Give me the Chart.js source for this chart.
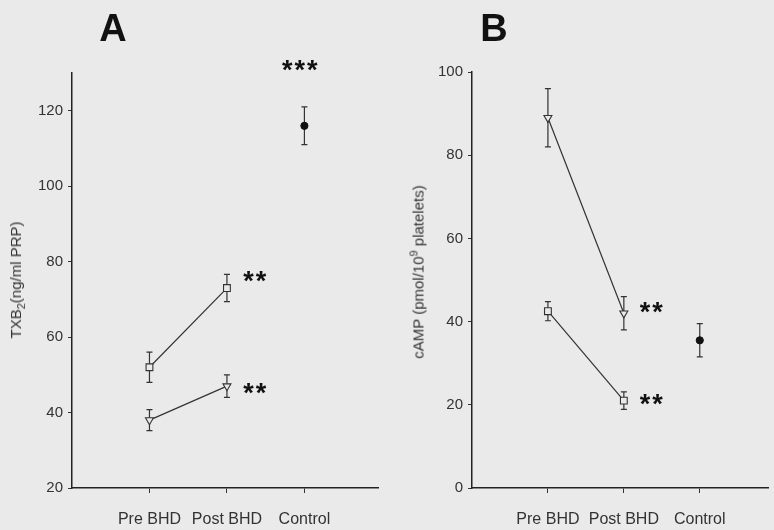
<!DOCTYPE html>
<html lang="en">
<head>
    <meta charset="UTF-8">
    <title>TXB2 and cAMP before and after BHD</title>
    <script src="https://cdn.jsdelivr.net/npm/chart.js"></script>
    <style>
        body {
            margin: 0;
            background: #eaeaea;
            font-family: 'Liberation Sans', Arial, sans-serif;
            color: #222;
        }

        .page {
            position: relative;
            width: 774px;
            height: 530px;
            overflow: hidden;
        }

        canvas {
            position: absolute;
            top: 0;
        }

        .panel {
            position: absolute;
            transform: translate(-50%, -50%);
            font-size: 38px;
            font-weight: bold;
            color: #111;
        }

        .ylab {
            position: absolute;
            transform: translate(-50%, -50%) rotate(-90deg);
            white-space: nowrap;
            font-size: 15px;
            color: #333;
        }

        .ylab sub, .ylab sup {
            font-size: 11px;
        }
    </style>
</head>
<body>
    <div class="page">
        <canvas id="chartA" width="390" height="530" style="left:0"></canvas>
        <canvas id="chartB" width="384" height="530" style="left:390px"></canvas>
        <div class="panel" style="left:113px; top:28px">A</div>
        <div class="panel" style="left:494px; top:28px">B</div>
        <div class="ylab" style="left:17px; top:280px">TXB<sub>2</sub>(ng/ml PRP)</div>
        <div class="ylab" style="left:417px; top:272px">cAMP (pmol/10<sup>9</sup> platelets)</div>
    </div>

    <script>
        // categories on the x axis (placed at 1, 2, 3)
        const categories = ['Pre BHD', 'Post BHD', 'Control'];
        const catX = [1, 2, 3];

        // panel A: TXB2 (ng/ml PRP)
        const txbSquare = [52, 73];
        const txbSquareErr = [4, 3.6];
        const txbTriangle = [38, 47];
        const txbTriangleErr = [2.8, 3];
        const txbControl = [116];
        const txbControlErr = [5];
        const txbTicks = [20, 40, 60, 80, 100, 120];
        const txbStars = [
            { x: 2.94, y: 132, text: '***' },
            { x: 2.36, y: 76, text: '**' },
            { x: 2.36, y: 46.5, text: '**' }
        ];

        // panel B: cAMP (pmol/10^9 platelets)
        const campTriangle = [89, 42];
        const campTriangleErr = [7, 4];
        const campSquare = [42.5, 21];
        const campSquareErr = [2.3, 2.1];
        const campControl = [35.5];
        const campControlErr = [4];
        const campTicks = [0, 20, 40, 60, 80, 100];
        const campStars = [
            { x: 2.36, y: 43.3, text: '**' },
            { x: 2.36, y: 21.3, text: '**' }
        ];

        const BG = '#eaeaea';
        const INK = '#333';

        function points(values, start) {
            return values.map((v, i) => ({ x: catX[start + i], y: v }));
        }

        // vertical error bars with small caps, drawn under the markers
        const errorBars = {
            id: 'errorBars',
            beforeDatasetsDraw(chart) {
                const ctx = chart.ctx;
                const yScale = chart.scales.y;
                ctx.save();
                ctx.strokeStyle = INK;
                ctx.lineWidth = 1.2;
                chart.data.datasets.forEach((ds, i) => {
                    const meta = chart.getDatasetMeta(i);
                    meta.data.forEach((pt, j) => {
                        const v = ds.data[j].y;
                        const e = ds.errors[j];
                        const top = yScale.getPixelForValue(v + e);
                        const bot = yScale.getPixelForValue(v - e);
                        ctx.beginPath();
                        ctx.moveTo(pt.x, top);
                        ctx.lineTo(pt.x, bot);
                        ctx.moveTo(pt.x - 3, top);
                        ctx.lineTo(pt.x + 3, top);
                        ctx.moveTo(pt.x - 3, bot);
                        ctx.lineTo(pt.x + 3, bot);
                        ctx.stroke();
                    });
                });
                ctx.restore();
            }
        };

        // significance asterisks placed in data coordinates
        const starLabels = {
            id: 'starLabels',
            afterDraw(chart, args, opts) {
                const ctx = chart.ctx;
                ctx.save();
                ctx.font = 'bold 27px "Liberation Sans", Arial, sans-serif';
                ctx.letterSpacing = '2px';
                ctx.fillStyle = '#111';
                ctx.textAlign = 'center';
                ctx.textBaseline = 'alphabetic';
                (opts.items || []).forEach(s => {
                    const m = ctx.measureText(s.text);
                    const px = chart.scales.x.getPixelForValue(s.x);
                    const py = chart.scales.y.getPixelForValue(s.y);
                    const shift = (m.actualBoundingBoxAscent - m.actualBoundingBoxDescent) / 2;
                    ctx.fillText(s.text, px + 1, py + shift);
                });
                ctx.restore();
            }
        };

        function makePanel(id, cfg) {
            const lineStyle = {
                borderColor: INK,
                borderWidth: 1.2,
                pointBorderColor: INK,
                pointBorderWidth: 1.1,
                pointBackgroundColor: BG,
                showLine: true
            };
            return new Chart(document.getElementById(id), {
                type: 'line',
                data: {
                    datasets: [
                        Object.assign({}, lineStyle, {
                            data: points(cfg.square, 0),
                            errors: cfg.squareErr,
                            pointStyle: 'rect',
                            pointRadius: 4.8
                        }),
                        Object.assign({}, lineStyle, {
                            data: points(cfg.triangle, 0),
                            errors: cfg.triangleErr,
                            pointStyle: 'triangle',
                            pointRotation: 180,
                            pointRadius: 4.6
                        }),
                        {
                            data: points(cfg.control, 2),
                            errors: cfg.controlErr,
                            showLine: false,
                            pointStyle: 'circle',
                            pointRadius: 3.6,
                            pointBackgroundColor: '#111',
                            pointBorderColor: '#111'
                        }
                    ]
                },
                options: {
                    responsive: false,
                    animation: false,
                    layout: { padding: { top: cfg.padTop, right: cfg.padRight, left: 0, bottom: 0 } },
                    plugins: {
                        legend: { display: false },
                        tooltip: { enabled: false },
                        starLabels: { items: cfg.stars }
                    },
                    scales: {
                        x: {
                            type: 'linear',
                            min: 0,
                            max: cfg.xMax,
                            afterBuildTicks: scale => {
                                scale.ticks = catX.map(v => ({ value: v }));
                            },
                            afterFit: scale => { scale.height = 42; },
                            ticks: {
                                callback: v => categories[catX.indexOf(v)],
                                color: INK,
                                font: { size: 16, family: '"Liberation Sans", Arial, sans-serif' },
                                padding: 17,
                                maxRotation: 0,
                                autoSkip: false
                            },
                            grid: { drawOnChartArea: false, tickLength: 5, color: INK },
                            border: { color: '#222', width: 1.5 }
                        },
                        y: {
                            min: cfg.yMin,
                            max: cfg.yMax,
                            afterBuildTicks: scale => {
                                scale.ticks = cfg.yTicks.map(v => ({ value: v }));
                            },
                            afterFit: scale => { scale.width = cfg.axisLeft; },
                            ticks: {
                                color: INK,
                                font: { size: 15, family: '"Liberation Sans", Arial, sans-serif' },
                                padding: 5
                            },
                            grid: { drawOnChartArea: false, tickLength: 4, color: INK },
                            border: { color: '#222', width: 1.5 }
                        }
                    }
                },
                plugins: [errorBars, starLabels]
            });
        }

        makePanel('chartA', {
            square: txbSquare, squareErr: txbSquareErr,
            triangle: txbTriangle, triangleErr: txbTriangleErr,
            control: txbControl, controlErr: txbControlErr,
            yMin: 20, yMax: 130, yTicks: txbTicks, stars: txbStars,
            xMax: 3.95, axisLeft: 72, padTop: 73, padRight: 12
        });

        makePanel('chartB', {
            square: campSquare, squareErr: campSquareErr,
            triangle: campTriangle, triangleErr: campTriangleErr,
            control: campControl, controlErr: campControlErr,
            yMin: 0, yMax: 100, yTicks: campTicks, stars: campStars,
            xMax: 3.9, axisLeft: 82, padTop: 72, padRight: 0
        });
    </script>
</body>
</html>
